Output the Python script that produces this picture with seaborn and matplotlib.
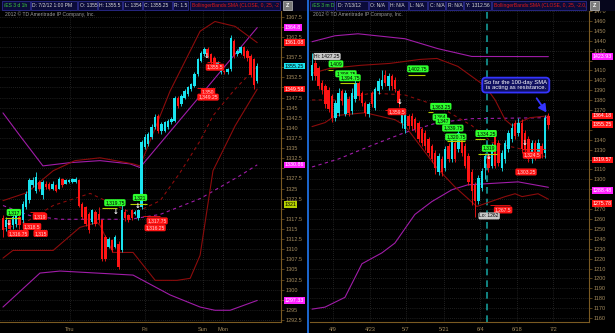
import numpy as np
import matplotlib
matplotlib.use("Agg")
import matplotlib.pyplot as plt
import seaborn as sns

# ---------------- data: left panel (/ES hourly, 3 days) ----------------
L_open = [1317.6,1315.5,1317.1,1315.9,1316.3,1318.0,1317.1,1320.4,1322.1,1325.8,1324.5,1326.6,1323.3,1326.2,1326.2,1325.0,1325.8,1325.0,1327.4,1326.2,
          1326.6,1326.6,1326.6,1327.0,1321.3,1320.4,1318.8,1316.7,1319.2,1318.8,1317.1,1313.0,1310.6,1312.2,1310.6,1311.4,1309.8,1319.2,1318.4,1319.6,
          1318.8,1317.6,1320.4,1335.2,1336.0,1337.7,1340.2,1343.0,1339.3,1339.3,1340.2,1341.4,1341.8,1347.5,1345.9,1347.5,1348.4,1349.6,1350.4,1353.3,
          1356.6,1358.2,1359.5,1358.2,1357.4,1355.0,1353.7,1354.1,1353.7,1354.5,1361.5,1358.2,1358.6,1359.9,1359.1,1357.8,1357.0,1351.5]
L_high = [1318.5,1318.0,1317.5,1318.5,1319.5,1318.5,1322.0,1324.5,1327.5,1327.8,1329.0,1327.2,1327.0,1326.8,1326.5,1326.8,1326.2,1327.8,1327.6,1327.3,
          1327.3,1327.7,1327.8,1327.3,1321.6,1320.8,1319.2,1320.0,1319.6,1320.5,1317.5,1313.4,1313.0,1312.6,1313.4,1312.0,1321.5,1320.0,1318.8,1320.0,
          1319.6,1320.0,1337.0,1338.5,1339.0,1341.0,1343.5,1343.4,1341.4,1341.8,1342.2,1342.6,1348.0,1347.9,1348.4,1349.6,1350.4,1351.2,1353.7,1357.4,
          1359.0,1360.0,1359.9,1358.6,1357.8,1356.6,1354.5,1354.4,1354.8,1363.0,1361.9,1359.5,1360.3,1360.3,1359.5,1358.2,1357.4,1356.0]
L_low = [1313.0,1314.5,1314.0,1315.0,1315.5,1315.0,1316.5,1320.0,1321.5,1325.5,1324.0,1324.5,1322.5,1325.0,1324.6,1324.7,1324.2,1324.8,1325.5,1326.0,
         1326.4,1326.4,1326.4,1320.4,1317.5,1315.8,1314.0,1316.2,1315.8,1316.5,1307.0,1307.0,1310.2,1309.4,1310.2,1305.0,1309.4,1317.0,1316.7,1317.2,
         1318.4,1317.2,1320.0,1334.8,1335.5,1337.2,1339.8,1338.8,1338.5,1339.0,1339.8,1341.0,1341.4,1345.0,1345.5,1347.1,1348.0,1349.2,1350.0,1352.9,
         1356.2,1357.8,1357.4,1355.8,1355.4,1354.5,1353.3,1353.3,1353.4,1354.1,1357.4,1357.8,1358.2,1357.4,1356.6,1352.5,1349.6,1351.0]
L_close = [1314.7,1317.1,1315.1,1318.0,1318.8,1315.9,1321.3,1323.7,1327.0,1327.0,1327.8,1325.0,1326.6,1325.4,1325.0,1326.2,1324.5,1327.4,1325.8,1327.0,
           1327.0,1327.4,1327.4,1320.8,1318.0,1316.3,1314.7,1319.6,1316.3,1317.1,1307.7,1307.7,1312.6,1309.8,1313.0,1305.6,1319.6,1317.6,1317.1,1317.6,
           1319.2,1319.6,1336.5,1337.7,1338.5,1340.2,1342.6,1339.3,1341.0,1341.4,1341.8,1342.2,1347.5,1345.5,1348.0,1349.2,1350.0,1350.8,1353.3,1357.0,
           1358.6,1359.5,1357.8,1356.2,1355.8,1356.2,1354.1,1353.7,1354.5,1362.3,1357.8,1359.1,1359.9,1357.8,1357.4,1353.0,1350.5,1355.25]

L_ub_x = [0, 7.3, 15.2, 21.8, 29.4, 39.4, 41.5, 50.6, 59.7, 64.2, 70.3, 77]
L_ub_y = [1322.0, 1324.0, 1329.4, 1331.9, 1332.6, 1331.1, 1330.6, 1349.1, 1363.9, 1366.3, 1365.1, 1361.08]
L_mid_x = [0, 7.3, 15.2, 26.4, 39.4, 47.6, 53.6, 59.7, 63.6, 70.3, 77]
L_mid_y = [1314.9, 1316.9, 1320.8, 1323.8, 1318.8, 1322.0, 1328.9, 1336.8, 1343.0, 1349.6, 1355.3]
L_lb_x = [0, 3.0, 15.2, 23.3, 28.5, 29.4, 33.3, 39.4, 46.1, 52.7, 56.7, 59.7, 63.6, 70.3, 77]
L_lb_y = [1307.8, 1309.7, 1309.7, 1315.4, 1316.6, 1315.9, 1309.2, 1309.2, 1302.3, 1302.3, 1302.8, 1308.5, 1329.4, 1340.5, 1349.58]
L_mu_x = [0, 5.2, 12.1, 20.3, 29.4, 38.5, 41.5, 59.7, 77]
L_mu_y = [1343.7, 1338.0, 1330.6, 1331.4, 1331.9, 1331.1, 1330.2, 1347.9, 1364.8]
L_sma_x = [0, 8.2, 17.3, 38.5, 47.6, 59.7, 71.8, 77]
L_sma_y = [1320.8, 1318.3, 1317.4, 1317.4, 1318.6, 1322.5, 1328.2, 1330.86]
L_ml_x = [0, 11.2, 17.3, 39.4, 50.6, 59.7, 64.2, 68.8, 77]
L_ml_y = [1295.7, 1304.1, 1304.6, 1303.6, 1298.7, 1295.7, 1294.9, 1294.9, 1297.33]

L_day_labels = ["Thu", "Fri", "Sun", "Mon"]
L_day_pos = [20.3, 43.0, 60.6, 66.7]
L_tag_vals = [1364.8, 1361.08, 1355.25, 1349.58, 1330.86, 1321, 1297.33]
L_tag_text = ['1364.8', '1361.08', '1355.25', '1349.58', '1330.86', '1321', '1297.33']

# ---------------- data: right panel (/ES daily) ----------------
R_open = [1404,1418,1412,1397,1394,1390,1384,1362,1367,1389,1366,1381,1369,1381,1397,1387,1377,1366,1387,1372,1389,1394,1405,1394,1404,1400,
          1389,1357,1351,1364,1364,1361,1357,1351,1347,1341,1334,1327,1307,1321,1311,1334,1321,1337,1331,1341,1334,1324,1307,1294,1278,1291,
          1311,1324,1314,1344,1337,1311,1321,1331,1341,1357,1347,1357,1347,1341,1321,1337,1327,1334,1327,1364]
R_high = [1427.25,1421,1414,1400,1396,1393,1386,1380,1392,1391,1390,1384,1392,1400,1399,1389,1379,1378,1389,1393,1402,1410,1410,1407,1406,1403,
          1391,1372,1369,1366,1367,1363,1359,1353,1350,1343,1336,1330,1327,1324,1334,1337,1344,1340,1350,1344,1337,1327,1310,1297,1304,1311,
          1327,1327,1337,1347,1340,1330,1340,1350,1357,1360,1362,1361,1350,1344,1340,1340,1341,1337,1365,1367]
R_low = [1400,1400,1391,1386,1372,1368,1358,1359,1364,1375,1364,1364,1366,1378,1380,1374,1364,1363,1373,1370,1386,1391,1394,1390,1390,1388,
         1373,1352,1347,1351,1350,1348,1338,1334,1330,1324,1318,1305,1304,1303,1308,1318,1318,1318,1328,1324,1311,1294,1274,1262,1275,1288,
         1300,1307,1311,1311,1314,1308,1317,1328,1338,1341,1344,1327,1327,1318,1317,1320,1324,1322,1322,1351]
R_close = [1415,1404,1394,1390,1376,1371,1362,1377,1387,1379,1387,1367,1387,1397,1384,1377,1367,1376,1376,1391,1399,1400,1397,1404,1394,1391,
           1377,1369,1366,1354,1354,1351,1341,1337,1334,1327,1321,1311,1324,1307,1331,1321,1341,1321,1347,1327,1314,1297,1288,1278,1301,1308,
           1324,1311,1334,1314,1317,1327,1337,1347,1352,1344,1357,1331,1331,1321,1337,1324,1337,1326,1362,1355.25]

R_ub_x = [0, 5.4, 14.4, 23.4, 32.4, 37.5, 43.8, 52.0, 55.0, 58.0, 60.1, 65.5, 71]
R_ub_y = [1407.1, 1412.1, 1415.1, 1417.1, 1421.1, 1422.1, 1414.1, 1394.2, 1380.2, 1360.3, 1354.3, 1362.3, 1364.18]
R_mid_x = [0, 7.8, 18.0, 27.9, 37.8, 48.0, 54.1, 63.1, 71]
R_mid_y = [1380.2, 1380.2, 1387.2, 1385.2, 1374.2, 1354.3, 1337.4, 1330.4, 1322.0]
R_lb_x = [0, 3.9, 6.9, 15.9, 24.9, 27.9, 37.8, 42.9, 49.5, 52.0, 58.0, 61.0, 63.1, 67.9, 71]
R_lb_y = [1353.3, 1357.3, 1364.3, 1367.3, 1360.3, 1354.3, 1310.5, 1292.5, 1272.6, 1275.6, 1282.6, 1285.5, 1282.6, 1285.5, 1280.0]
R_mu_x = [0, 6.9, 13.8, 27.9, 37.8, 48.0, 71]
R_mu_y = [1439.0, 1445.0, 1447.0, 1442.0, 1432.0, 1424.1, 1423.93]
R_sma_x = [0, 7.8, 18.0, 27.9, 37.8, 48.0, 71]
R_sma_y = [1312.5, 1320.4, 1334.4, 1347.3, 1357.3, 1361.3, 1362.3]
R_ml_x = [0, 3.9, 9.9, 15.0, 21.0, 24.9, 30.9, 36.0, 42.0, 46.8, 61.9, 71]
R_ml_y = [1169.0, 1171.0, 1180.9, 1214.8, 1225.8, 1235.7, 1264.6, 1277.6, 1289.5, 1294.5, 1297.5, 1292.0]

R_date_labels = ["4/9", "4/23", "5/7", "5/21", "6/4", "6/18", "7/2"]
R_date_pos = [6.3, 17.4, 28.2, 39.6, 50.5, 61.6, 72.4]
R_tag_vals = [1423.93, 1364.18, 1355.25, 1319.57, 1288.48, 1275.78]
R_tag_text = ['1423.93', '1364.18', '1355.25', '1319.57', '1288.48', '1275.78']

# ---------------- style ----------------
sns.set_style("dark", {"axes.facecolor": "black", "figure.facecolor": "black"})
plt.rcParams['font.family'] = ['Liberation Sans', 'DejaVu Sans']

CYAN = '#19e3ef'
RED = '#ff1414'
DRED = '#8c0c0c'
PURP = '#a01ca8'
MAGBOX = '#ff20ff'
GREENBOX = '#2eff2e'
YEL = '#b5d000'
AXC = '#7a5a22'
TXC = '#a38b5e'
GRIDC = '#3c3c3c'

W, H = 615, 333
fig = plt.figure(figsize=(W / 100, H / 100), dpi=100)
fig.patch.set_facecolor('black')

axL = fig.add_axes([0 / W, 11 / H, 281 / W, 311 / H])
axR = fig.add_axes([310 / W, 11 / H, 279 / W, 311 / H])


def style_axis(ax):
    ax.set_facecolor('black')
    for s in ['top', 'left']:
        ax.spines[s].set_visible(False)
    for s in ['right', 'bottom']:
        ax.spines[s].set_color(AXC)
        ax.spines[s].set_linewidth(0.8)
    ax.yaxis.tick_right()
    ax.tick_params(axis='both', colors=AXC, labelcolor=TXC, labelsize=4, length=2, width=0.5, pad=1.5)
    ax.grid(True, color=GRIDC, linestyle=(0, (1, 2)), linewidth=0.5)


def set_price_ticks(ax, ticks, tag_vals, gap):
    ax.set_yticks(ticks)
    labs = []
    for v in ticks:
        hidden = any(abs(v - t) < gap for t in tag_vals)
        labs.append('' if hidden else ('%g' % v))
    ax.set_yticklabels(labs)


def candles(ax, o, h, l, c, minbody):
    o, h, l, c = map(np.asarray, (o, h, l, c))
    x = np.arange(len(o))
    cols = np.where(c >= o, CYAN, RED)
    ax.vlines(x, l, h, colors=cols, linewidth=0.6, zorder=3)
    body = np.maximum(np.abs(c - o), minbody)
    ax.bar(x, body, bottom=np.minimum(o, c), width=0.74, color=cols, linewidth=0, zorder=3)


def line(ax, xs, ys, color, lw, ls='-'):
    sns.lineplot(x=xs, y=ys, ax=ax, color=color, linewidth=lw, linestyle=ls, sort=False, zorder=2)


def price_tag(ax, val, txt, fc, tc):
    ax.annotate(txt, xy=(1, val), xycoords=('axes fraction', 'data'), xytext=(2.5, 0),
                textcoords='offset points', fontsize=3.8, color=tc, va='center', ha='left',
                bbox=dict(boxstyle='square,pad=0.15', fc=fc, ec='none'), annotation_clip=False, zorder=6)


def tag(ax, x, y, txt, fc, tc='black'):
    ax.text(x, y, txt, fontsize=3.6, color=tc, ha='center', va='center', zorder=5,
            bbox=dict(boxstyle='round,pad=0.2,rounding_size=0.3', fc=fc, ec='none'))


def arrow(ax, x, y):
    ax.text(x, y, '\u2193', fontsize=5, color='white', ha='center', va='center', zorder=5,
            family=['DejaVu Sans'], fontweight='bold')


# ---------------- left panel ----------------
style_axis(axL)
line(axL, L_ml_x, L_ml_y, PURP, 0.8)
line(axL, L_mu_x, L_mu_y, PURP, 0.8)
line(axL, L_sma_x, L_sma_y, PURP, 0.8, (0, (3, 3)))
line(axL, L_ub_x, L_ub_y, DRED, 0.8)
line(axL, L_lb_x, L_lb_y, DRED, 0.8)
line(axL, L_mid_x, L_mid_y, DRED, 0.8, (0, (3, 3)))
candles(axL, L_open, L_high, L_low, L_close, 0.15)
axL.set_xlim(-0.9, 84.2)
axL.set_ylim(1292.0, 1368.9)
set_price_ticks(axL, np.arange(1292.5, 1368, 2.5), L_tag_vals, 1.3)
axL.set_xticks(L_day_pos)
axL.set_xticklabels(L_day_labels)

# short level lines
axL.hlines([1317.6, 1320.1, 1321.3], [0.6, 30.0, 38.5], [5.2, 34.5, 43.6], colors=YEL, lw=0.8, zorder=4)
axL.hlines([1319.3, 1318.2, 1356.2, 1349.8], [8.2, 42.4, 61.8, 58.8], [12.7, 47.6, 65.8, 64.2], colors=RED, lw=0.6, zorder=4)
tag(axL, 3.3, 1319.1, '1,317', GREENBOX)
tag(axL, 11.2, 1318.1, '1,319', RED, '#ffd6d6')
tag(axL, 8.8, 1315.6, '1,318.5', RED, '#ffd6d6')
tag(axL, 4.6, 1313.9, '1,316.75', RED, '#ffd6d6')
tag(axL, 11.4, 1313.9, '1,315', RED, '#ffd6d6')
tag(axL, 33.9, 1321.5, '1,319.75', GREENBOX)
tag(axL, 41.5, 1322.8, '1,321', GREENBOX)
tag(axL, 46.7, 1317.0, '1,317.75', RED, '#ffd6d6')
tag(axL, 46.1, 1315.3, '1,316.25', RED, '#ffd6d6')
tag(axL, 64.2, 1355.0, '1,355.5', RED, '#ffd6d6')
tag(axL, 62.1, 1348.9, '1,350', RED, '#ffd6d6')
tag(axL, 62.1, 1347.6, '1,349.25', RED, '#ffd6d6')
for ax_, ay_ in [(1.8, 1316.6), (34.2, 1319.3), (40.9, 1320.8), (61.8, 1357.7)]:
    arrow(axL, ax_, ay_)

L_tag_fc = [MAGBOX, RED, CYAN, RED, MAGBOX, YEL, MAGBOX]
L_tag_tc = ['white', 'white', 'black', 'white', 'white', 'black', 'white']
for v, t, fc, tc in zip(L_tag_vals, L_tag_text, L_tag_fc, L_tag_tc):
    price_tag(axL, v, t, fc, tc)

# ---------------- right panel ----------------
style_axis(axR)
line(axR, R_ml_x, R_ml_y, PURP, 0.8)
line(axR, R_mu_x, R_mu_y, PURP, 0.8)
line(axR, R_sma_x, R_sma_y, PURP, 0.8, (0, (3, 3)))
line(axR, R_ub_x, R_ub_y, DRED, 0.8)
line(axR, R_lb_x, R_lb_y, DRED, 0.8)
line(axR, R_mid_x, R_mid_y, DRED, 0.8, (0, (3, 3)))
candles(axR, R_open, R_high, R_low, R_close, 0.8)
axR.axvline(52.5, color='#159a98', linestyle=(0, (4, 3)), linewidth=1.2, zorder=1)
axR.set_xlim(-0.6, 83.2)
axR.set_ylim(1156.0, 1466.9)
set_price_ticks(axR, np.arange(1160, 1471, 10), R_tag_vals, 5.5)
axR.set_xticks(R_date_pos)
axR.set_xticklabels(R_date_labels)

axR.hlines([1410.4, 1397.2, 1405.4, 1368.3, 1338.4, 1340.6, 1325.4], [4.8, 8.4, 28.8, 34.8, 40.5, 48.9, 49.8],
           [6.3, 12.9, 33.9, 36.3, 45.9, 52.0, 55.6], colors=YEL, lw=0.8, zorder=4)
axR.hlines([1370.5, 1330.7, 1274.6], [22.0, 63.1, 53.5], [26.0, 70.0, 59.5], colors=RED, lw=0.6, zorder=4)
tag(axR, 4.5, 1424.1, 'Hi: 1427.25', '#c8c8c8')
tag(axR, 7.2, 1416.6, '1,409', GREENBOX)
tag(axR, 10.2, 1406.6, '1,398.75', GREENBOX)
tag(axR, 11.4, 1402.6, '1,394.75', GREENBOX)
tag(axR, 31.8, 1411.6, '1,402.75', GREENBOX)
tag(axR, 25.5, 1368.3, '1,359.5', RED, '#ffd6d6')
tag(axR, 38.7, 1373.7, '1,363.25', GREENBOX)
tag(axR, 38.4, 1362.8, '1,364', GREENBOX)
tag(axR, 39.3, 1358.8, '1,347', GREENBOX)
tag(axR, 42.3, 1351.8, '1,339.75', GREENBOX)
tag(axR, 43.2, 1342.8, '1,320.75', GREENBOX)
tag(axR, 52.3, 1346.3, '1,334.25', GREENBOX)
tag(axR, 53.2, 1331.4, '1,319', GREENBOX)
tag(axR, 66.1, 1324.4, '1,324.5', RED, '#ffd6d6')
tag(axR, 64.3, 1307.5, '1,303.25', RED, '#ffd6d6')
tag(axR, 57.4, 1269.1, '1,267.5', RED, '#ffd6d6')
tag(axR, 53.2, 1263.1, 'Lo: 1262', '#c8c8c8')
for ax_, ay_ in [(26.4, 1378.2), (52.9, 1322.4), (64.0, 1336.4)]:
    arrow(axR, ax_, ay_)

axR.text(61.2, 1395.2, 'So far the 100-day SMA\nis acting as resistance.', fontsize=4.2, color='white',
         ha='center', va='center', zorder=7, linespacing=1.2,
         bbox=dict(boxstyle='round,pad=0.35,rounding_size=0.6', fc='#101060', ec='#3434ff', lw=1.3))
axR.annotate('', xy=(70.9, 1365.3), xytext=(67.0, 1384.2),
             arrowprops=dict(arrowstyle='-|>,head_width=0.25,head_length=0.45', color='#3434ff', lw=1.3), zorder=7)

R_tag_fc = [MAGBOX, RED, RED, RED, MAGBOX, RED]
for v, t, fc in zip(R_tag_vals, R_tag_text, R_tag_fc):
    price_tag(axR, v, t, fc, 'white')

# ---------------- header bars & decorations ----------------
fig.add_artist(plt.Rectangle((0, 1 - 10.5 / H), 1, 10.5 / H, transform=fig.transFigure, fc='#06061c', ec='none'))
fig.add_artist(plt.Line2D([308 / W, 308 / W], [0, 1], transform=fig.transFigure, color='#1f6fe0', lw=1.3))


def hbox(x0, x1, txt, col):
    fig.add_artist(plt.Rectangle((x0 / W, 1 - 9.5 / H), (x1 - x0) / W, 8.5 / H, transform=fig.transFigure,
                                 fc='#0b0b3a', ec='#2b2b8c', lw=0.6))
    fig.text((x0 + 1.5) / W, 1 - 5.2 / H, txt, fontsize=3.6, color=col, va='center', ha='left', clip_on=False)


for x0, x1, t, c in [(2, 30, '/ES 3 d 1h', '#3ccf3c'), (31, 77, 'D: 7/2/12 1:00 PM', '#d8d8d8'),
                     (78, 97, 'O: 1355', '#d8d8d8'), (98, 122, 'H: 1355.5', '#d8d8d8'),
                     (123, 142, 'L: 1354', '#d8d8d8'), (143, 172, 'C: 1355.25', '#d8d8d8'),
                     (173, 188, 'R: 1.5', '#d8d8d8'), (190, 280, 'BollingerBands:SMA (CLOSE, 0, 25, -2', '#e01818'),
                     (310, 334, '/ES 3 m D', '#3ccf3c'), (336, 368, 'D: 7/13/12', '#d8d8d8'),
                     (369, 388, 'O: N/A', '#d8d8d8'), (389, 408, 'H: N/A', '#d8d8d8'),
                     (409, 427, 'L: N/A', '#d8d8d8'), (428, 445, 'C: N/A', '#d8d8d8'),
                     (446, 463, 'R: N/A', '#d8d8d8'), (464, 491, 'Y: 1312.56', '#d8d8d8'),
                     (492, 586, 'BollingerBands:SMA (CLOSE, 0, 25, -2.0,', '#e01818')]:
    hbox(x0, x1, t, c)

for x0 in (283, 590):
    fig.add_artist(plt.Rectangle((x0 / W, 1 - 9.5 / H), 9 / W, 8 / H, transform=fig.transFigure,
                                 fc='#7a7a7a', ec='#c0c0c0', lw=0.5))
    fig.text((x0 + 4.5) / W, 1 - 5.5 / H, 'Z', fontsize=4, color='white', ha='center', va='center', fontweight='bold')

fig.text(5 / W, 1 - 14 / H, '2012 \u00a9 TD Ameritrade IP Company, Inc.', fontsize=3.6, color='#9a9a9a', va='center')
fig.text(313 / W, 1 - 14 / H, '2012 \u00a9 TD Ameritrade IP Company, Inc.', fontsize=3.6, color='#9a9a9a', va='center')

fig.savefig('out.png', dpi=100, facecolor='black')
